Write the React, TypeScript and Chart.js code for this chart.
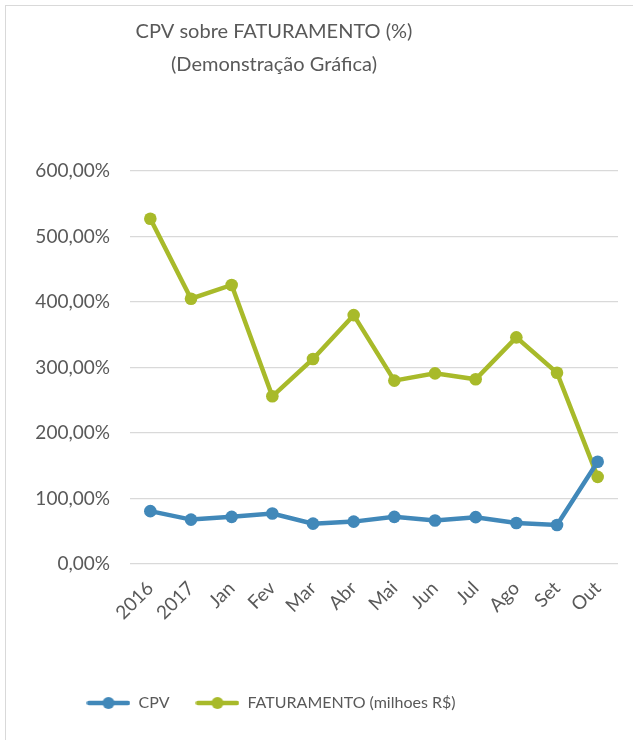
import React, { useEffect, useRef } from "react";
import { Chart, registerables } from "chart.js";

Chart.register(...registerables);

const categories = ["2016", "2017", "Jan", "Fev", "Mar", "Abr", "Mai", "Jun", "Jul", "Ago", "Set", "Out"];
const cpvValues = [80.7, 67.8, 72, 77, 61.6, 64.7, 72, 66.3, 71.5, 62.7, 59.6, 156];
const faturamentoValues = [527, 405, 426, 256, 313, 380, 280, 291, 282, 346, 292, 133];
const seriesNames = ["CPV", "FATURAMENTO (milhoes R$)"];
const titleLines = ["CPV sobre FATURAMENTO (%)", "(Demonstração Gráfica)"];
const yMin = 0;
const yMax = 600;
const yStep = 100;

const BLUE = "#4188b9";
const GREEN = "#a8ba2a";
const TEXT = "#595959";
const FONT = "Lato, 'Open Sans', sans-serif";

function legendIcon(color: string): HTMLCanvasElement {
  const c = document.createElement("canvas");
  c.width = 44;
  c.height = 14;
  const ctx = c.getContext("2d")!;
  ctx.strokeStyle = color;
  ctx.lineWidth = 4.5;
  ctx.lineCap = "round";
  ctx.beginPath();
  ctx.moveTo(2.5, 7);
  ctx.lineTo(41.5, 7);
  ctx.stroke();
  ctx.fillStyle = color;
  ctx.beginPath();
  ctx.arc(22, 7, 6, 0, Math.PI * 2);
  ctx.fill();
  return c;
}

const centerBlocks = {
  id: "centerBlocks",
  afterLayout(chart: any) {
    const t = chart.titleBlock;
    if (t) {
      t.left = 6;
      t.right = 542;
    }
    const l = chart.legend;
    if (l) {
      l.left = 6;
      l.right = 536;
    }
  },
};

export default function App() {
  const ref = useRef<HTMLCanvasElement>(null);
  useEffect(() => {
    if (!ref.current) return;
    const icons = [legendIcon(BLUE), legendIcon(GREEN)];
    const chart = new Chart(ref.current, {
      type: "line",
      data: {
        labels: categories,
        datasets: [
          {
            label: seriesNames[0],
            data: cpvValues,
            borderColor: BLUE,
            backgroundColor: BLUE,
            borderWidth: 4.5,
            pointRadius: 6.3,
            pointBackgroundColor: BLUE,
            pointBorderWidth: 0,
            tension: 0,
          },
          {
            label: seriesNames[1],
            data: faturamentoValues,
            borderColor: GREEN,
            backgroundColor: GREEN,
            borderWidth: 4.5,
            pointRadius: 6.3,
            pointBackgroundColor: GREEN,
            pointBorderWidth: 0,
            tension: 0,
          },
        ],
      },
      options: {
        responsive: false,
        animation: false,
        layout: { padding: { left: 6, right: 15, top: 0, bottom: 19 } },
        plugins: {
          tooltip: { enabled: false },
          title: {
            display: true,
            text: titleLines,
            color: TEXT,
            font: { family: FONT, size: 20, weight: "normal", lineHeight: 1.65 },
            padding: { top: 15, bottom: 90 },
          },
          legend: {
            position: "bottom",
            labels: {
              usePointStyle: true,
              pointStyleWidth: 44,
              boxHeight: 14,
              padding: 26,
              color: TEXT,
              font: { family: FONT, size: 16 },
              generateLabels: (ch: any) =>
                ch.data.datasets.map((ds: any, i: number) => ({
                  text: ds.label,
                  fillStyle: ds.borderColor,
                  strokeStyle: ds.borderColor,
                  lineWidth: 0,
                  pointStyle: icons[i],
                  datasetIndex: i,
                  hidden: false,
                  fontColor: TEXT,
                })),
            },
          },
        },
        scales: {
          x: {
            offset: true,
            grid: { display: false, drawTicks: false },
            border: { display: false },
            afterFit: (scale: any) => {
              scale.height = 105;
            },
            ticks: {
              color: TEXT,
              font: { family: FONT, size: 19 },
              minRotation: 45,
              maxRotation: 45,
              padding: 13,
            },
          },
          y: {
            min: yMin,
            max: yMax,
            afterFit: (scale: any) => {
              scale.width = 124;
            },
            grid: { color: "#d9d9d9", lineWidth: 1.3, drawTicks: false },
            border: { display: false },
            ticks: {
              stepSize: yStep,
              color: TEXT,
              font: { family: FONT, size: 19 },
              padding: 20,
              callback: (v: any) =>
                Number(v).toFixed(2).replace(".", ",") + "%",
            },
          },
        },
      },
      plugins: [centerBlocks],
    });
    return () => chart.destroy();
  }, []);

  return (
    <div style={{ position: "absolute", left: 0, top: 0, width: 633, height: 740, overflow: "hidden", background: "#fff" }}>
      <div
        style={{
          position: "absolute",
          left: 5,
          top: 5,
          width: 660,
          height: 760,
          border: "1.5px solid #d9d9d9",
        }}
      />
      <canvas ref={ref} width={633} height={740} style={{ position: "absolute", left: 0, top: 0 }} />
    </div>
  );
}
